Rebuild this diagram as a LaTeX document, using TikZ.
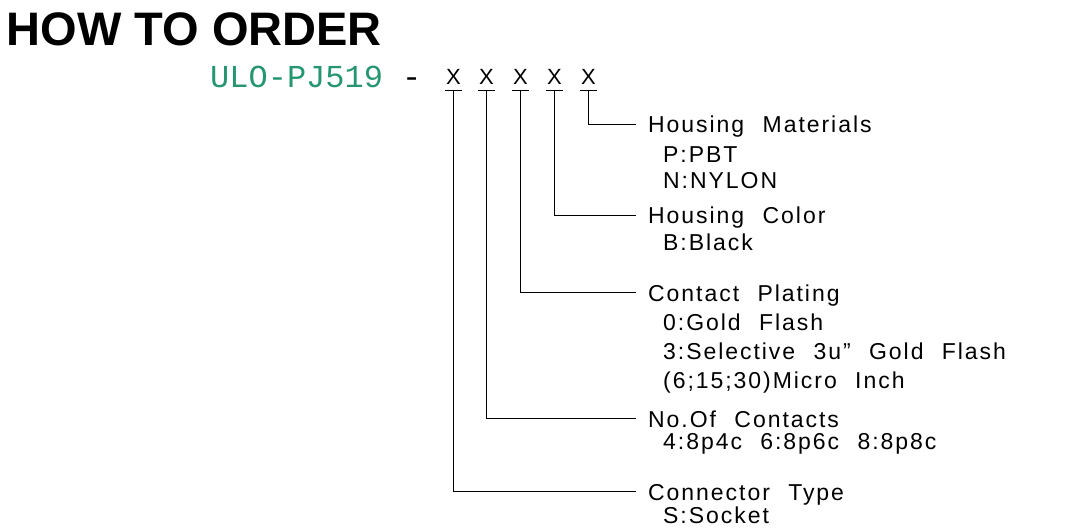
\documentclass[tikz,border=0pt]{standalone}
\usepackage{fontspec}
\setmainfont{Liberation Sans}
\newfontfamily\cadfont{Liberation Sans}[LetterSpace=8.5,WordSpace=2.2]
\newfontfamily\partfont{Liberation Mono}
\usepackage{tikz}
\usetikzlibrary{positioning}
\definecolor{partgreen}{RGB}{38,150,110}

\tikzset{
  slot/.style={font=\cadfont\fontsize{22}{26}\selectfont, inner xsep=0pt, inner ysep=5pt,
    minimum width=17pt, text height=16pt, text depth=0pt, anchor=base},
  heading/.style={font=\cadfont\fontsize{23}{27}\selectfont, inner xsep=12pt, inner ysep=0pt,
    text height=17pt, text depth=0pt, anchor=base west},
  option/.style={font=\cadfont\fontsize{23}{27}\selectfont, inner sep=0pt, anchor=base west},
  lead/.style={line width=1.2pt}
}

\begin{document}
\begin{tikzpicture}[x=1pt, y=-1pt]
    \useasboundingbox (0,0) rectangle (1080,532);
    % title and part number
    \node[font=\bfseries\fontsize{47}{51}\selectfont, inner sep=0pt, anchor=base west] (title) at (6.5,46) {HOW TO ORDER};
    \node[font=\partfont\fontsize{32}{36}\selectfont, inner sep=0pt, anchor=base west] (partno) at (210,88)
      {\textcolor{partgreen}{ULO-PJ519} -};
    % code positions
    \node[slot] (s1) at (453.5,85) {X};
    \node[slot] (s2) at (486.5,85) {X};
    \node[slot] (s3) at (520.5,85) {X};
    \node[slot] (s4) at (554.5,85) {X};
    \node[slot] (s5) at (588.5,85) {X};
    \draw[lead] (s1.south west) -- (s1.south east);
    \draw[lead] (s2.south west) -- (s2.south east);
    \draw[lead] (s3.south west) -- (s3.south east);
    \draw[lead] (s4.south west) -- (s4.south east);
    \draw[lead] (s5.south west) -- (s5.south east);
    % housing materials
    \node[heading] (mat) at (636,133) {Housing Materials};
    \node[option] (matP) at (663,163) {P:PBT};
    \node[option] (matN) at (663,189) {N:NYLON};
    % housing color
    \node[heading] (col) at (636,224) {Housing Color};
    \node[option] (colB) at (663,251) {B:Black};
    % contact plating
    \node[heading] (plat) at (636,301) {Contact Plating};
    \node[option] (plat0) at (663,330) {0:Gold Flash};
    \node[option] (plat3) at (663,359) {3:Selective 3u” Gold Flash};
    \node[option] (platM) at (663,388) {(6;15;30)Micro Inch};
    % number of contacts
    \node[heading] (cnt) at (636,427) {No.Of Contacts};
    \node[option] (cntN) at (663,449) {4:8p4c 6:8p6c 8:8p8c};
    % connector type
    \node[heading] (typ) at (636,500) {Connector Type};
    \node[option] (typS) at (663,523) {S:Socket};
    % leaders
    \draw[lead] (s5.south) |- (mat.west);
    \draw[lead] (s4.south) |- (col.west);
    \draw[lead] (s3.south) |- (plat.west);
    \draw[lead] (s2.south) |- (cnt.west);
    \draw[lead] (s1.south) |- (typ.west);
\end{tikzpicture}
\end{document}
